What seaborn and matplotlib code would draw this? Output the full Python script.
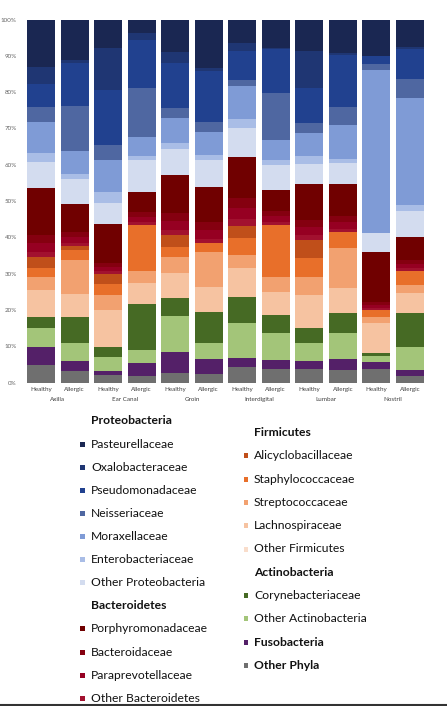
import numpy as np
import pandas as pd
import matplotlib
matplotlib.use("Agg")
import matplotlib.pyplot as plt
from matplotlib.patches import Rectangle
from matplotlib.lines import Line2D
import seaborn as sns

# ========= DATA (percent of reads, bottom of stack first) =========
sites = ["Axilla", "Ear Canal", "Groin", "Interdigital", "Lumbar", "Nostril"]
conditions = ["Healthy", "Allergic"]

other_phyla = [4.7, 3.1, 2.0, 1.7, 2.6, 2.4, 4.3, 3.6, 3.6, 3.5, 3.6, 1.9]
fusobacteria = [5.2, 2.8, 1.1, 3.8, 5.7, 4.0, 2.4, 2.6, 2.4, 3.1, 2.1, 1.6]
other_actinobacteria = [5.2, 5.1, 3.8, 3.5, 10.1, 4.5, 9.6, 7.3, 4.9, 6.9, 1.5, 6.4]
corynebacteriaceae = [3.0, 7.0, 2.8, 12.5, 4.8, 8.5, 7.2, 5.1, 4.1, 5.6, 1.0, 9.2]
other_firmicutes = [0, 0, 0, 0, 0, 0, 0, 0, 0, 0, 0, 0]
lachnospiraceae = [7.3, 6.3, 10.4, 5.9, 6.9, 7.0, 8.1, 6.4, 9.2, 6.9, 8.1, 5.5]
streptococcaceae = [3.8, 9.5, 4.1, 3.2, 4.6, 9.5, 3.6, 4.1, 5.0, 11.0, 1.8, 2.3]
staphylococcaceae = [2.4, 2.7, 2.8, 12.9, 2.6, 2.4, 4.5, 14.4, 5.2, 4.4, 1.8, 3.9]
alicyclobacillaceae = [3.1, 1.2, 2.8, 0, 3.2, 0, 3.3, 0, 4.9, 0, 0, 0]
other_bacteroidetes = [1.3, 0.8, 0.8, 0.7, 1.5, 1.2, 2.0, 0.8, 1.2, 0.9, 0.6, 0.7]
paraprevotellaceae = [2.3, 1.5, 1.2, 1.5, 2.5, 2.5, 3.0, 1.5, 2.3, 1.9, 0.9, 1.1]
bacteroidaceae = [2.2, 1.5, 1.0, 1.4, 2.1, 2.1, 2.7, 1.5, 1.9, 1.7, 0.9, 1.1]
porphyromonadaceae = [13.1, 7.6, 10.8, 5.4, 10.6, 9.8, 11.3, 5.6, 9.9, 8.7, 13.7, 6.5]
other_proteobacteria = [7.2, 7.0, 5.9, 8.9, 7.2, 7.5, 8.1, 7.1, 5.7, 5.8, 5.1, 7.1]
enterobacteriaceae = [2.5, 1.3, 3.1, 0.9, 1.6, 1.3, 2.5, 1.3, 2.0, 1.1, 0, 1.5]
moraxellaceae = [8.5, 6.5, 8.8, 5.4, 6.9, 6.3, 9.0, 5.5, 6.5, 9.5, 45.0, 29.5]
neisseriaceae = [4.2, 12.4, 4.0, 13.5, 2.6, 2.8, 1.6, 13.0, 2.8, 4.8, 1.6, 5.2]
pseudomonadaceae = [6.1, 11.6, 15.1, 13.2, 12.6, 13.9, 8.2, 12.0, 9.6, 14.4, 2.3, 8.3]
oxalobacteraceae = [4.7, 0.9, 11.6, 1.8, 3.0, 0.9, 2.0, 0.4, 10.1, 0.6, 0, 0.6]
pasteurellaceae = [13.2, 11.2, 7.9, 3.8, 8.9, 13.4, 6.6, 7.8, 8.7, 9.2, 10.0, 7.6]

# ========= COLOURS =========
colors = {
    "Other Phyla": "#6f6f6f",
    "Fusobacteria": "#542068",
    "Other Actinobacteria": "#a3c579",
    "Corynebacteriaceae": "#466a24",
    "Other Firmicutes": "#f9ddcb",
    "Lachnospiraceae": "#f6c3a1",
    "Streptococcaceae": "#f2a170",
    "Staphylococcaceae": "#e86f2a",
    "Alicyclobacillaceae": "#c04f1a",
    "Other Bacteroidetes": "#a2112f",
    "Paraprevotellaceae": "#960022",
    "Bacteroidaceae": "#850010",
    "Porphyromonadaceae": "#700000",
    "Other Proteobacteria": "#d3dcef",
    "Enterobacteriaceae": "#a9bde6",
    "Moraxellaceae": "#7f9bd6",
    "Neisseriaceae": "#4f67a1",
    "Pseudomonadaceae": "#21418f",
    "Oxalobacteraceae": "#1f3673",
    "Pasteurellaceae": "#1a2752",
}

df = pd.DataFrame({
    "Other Phyla": other_phyla,
    "Fusobacteria": fusobacteria,
    "Other Actinobacteria": other_actinobacteria,
    "Corynebacteriaceae": corynebacteriaceae,
    "Other Firmicutes": other_firmicutes,
    "Lachnospiraceae": lachnospiraceae,
    "Streptococcaceae": streptococcaceae,
    "Staphylococcaceae": staphylococcaceae,
    "Alicyclobacillaceae": alicyclobacillaceae,
    "Other Bacteroidetes": other_bacteroidetes,
    "Paraprevotellaceae": paraprevotellaceae,
    "Bacteroidaceae": bacteroidaceae,
    "Porphyromonadaceae": porphyromonadaceae,
    "Other Proteobacteria": other_proteobacteria,
    "Enterobacteriaceae": enterobacteriaceae,
    "Moraxellaceae": moraxellaceae,
    "Neisseriaceae": neisseriaceae,
    "Pseudomonadaceae": pseudomonadaceae,
    "Oxalobacteraceae": oxalobacteraceae,
    "Pasteurellaceae": pasteurellaceae,
})
df["bar"] = [f"{s} {c}" for s in sites for c in conditions]
cum = df.set_index("bar").cumsum(axis=1).reset_index()

# ========= PLOT =========
sns.set_theme(style="white")
plt.rcParams["font.family"] = ["Lato", "DejaVu Sans"]

W, H = 447, 706
fig = plt.figure(figsize=(W / 100, H / 100), dpi=100)
ax = fig.add_axes([21 / W, 1 - 382.5 / H, 409 / W, 363 / H])

# draw cumulative tops, tallest first, so each layer shows its own slice
for col in reversed(list(colors.keys())):
    sns.barplot(data=cum, x="bar", y=col, color=colors[col], width=0.83,
                saturation=1, errorbar=None, ax=ax, linewidth=0)

ax.set_ylim(0, 100)
ax.set_xlim(-0.6, len(df) - 0.4)
ax.set_xlabel("")
ax.set_ylabel("")
ax.set_yticks(np.arange(0, 101, 10))
ax.set_yticklabels([f"{v}%" for v in range(0, 101, 10)], fontsize=4.5, color="#666666")
ax.set_xticks(range(len(df)))
ax.set_xticklabels([c for s in sites for c in conditions], fontsize=4.5, color="#404040")
ax.tick_params(axis="both", length=0, pad=3)
for sp in ax.spines.values():
    sp.set_visible(False)

for i, s in enumerate(sites):
    ax.text(2 * i + 0.5, -0.048, s, transform=ax.get_xaxis_transform(),
            ha="center", va="center", fontsize=4.5, color="#404040")

# ========= LEGEND =========
def fx(x):
    return x / W

def fy(y):
    return 1 - y / H

left_col = [
    ("Proteobacteria", None),
    ("Pasteurellaceae", colors["Pasteurellaceae"]),
    ("Oxalobacteraceae", colors["Oxalobacteraceae"]),
    ("Pseudomonadaceae", colors["Pseudomonadaceae"]),
    ("Neisseriaceae", colors["Neisseriaceae"]),
    ("Moraxellaceae", colors["Moraxellaceae"]),
    ("Enterobacteriaceae", colors["Enterobacteriaceae"]),
    ("Other Proteobacteria", colors["Other Proteobacteria"]),
    ("Bacteroidetes", None),
    ("Porphyromonadaceae", colors["Porphyromonadaceae"]),
    ("Bacteroidaceae", colors["Bacteroidaceae"]),
    ("Paraprevotellaceae", colors["Paraprevotellaceae"]),
    ("Other Bacteroidetes", colors["Other Bacteroidetes"]),
]
right_col = [
    ("Firmicutes", None),
    ("Alicyclobacillaceae", colors["Alicyclobacillaceae"]),
    ("Staphylococcaceae", colors["Staphylococcaceae"]),
    ("Streptococcaceae", colors["Streptococcaceae"]),
    ("Lachnospiraceae", colors["Lachnospiraceae"]),
    ("Other Firmicutes", colors["Other Firmicutes"]),
    ("Actinobacteria", None),
    ("Corynebacteriaceae", colors["Corynebacteriaceae"]),
    ("Other Actinobacteria", colors["Other Actinobacteria"]),
    ("Fusobacteria", colors["Fusobacteria"]),
    ("Other Phyla", colors["Other Phyla"]),
]
bold_items = {"Proteobacteria", "Bacteroidetes", "Firmicutes", "Actinobacteria",
              "Fusobacteria", "Other Phyla"}

def draw_column(items, x_box, x_text, y0, step):
    for k, (name, c) in enumerate(items):
        y = y0 + k * step
        if c is not None:
            fig.add_artist(Rectangle((fx(x_box - 2.5), fy(y + 2.5)), 5 / W, 5 / H,
                                     transform=fig.transFigure, color=c, lw=0))
        fig.text(fx(x_text), fy(y), name, ha="left", va="center", fontsize=8.7,
                 color="#111111", fontweight="bold" if name in bold_items else "normal")

draw_column(left_col, 82, 91, 421, 23.1)
draw_column(right_col, 246, 254, 432.5, 23.3)

fig.add_artist(Line2D([0, 1], [fy(705), fy(705)], transform=fig.transFigure,
                      color="#333333", lw=1.5))

fig.savefig("out.png", dpi=100)
